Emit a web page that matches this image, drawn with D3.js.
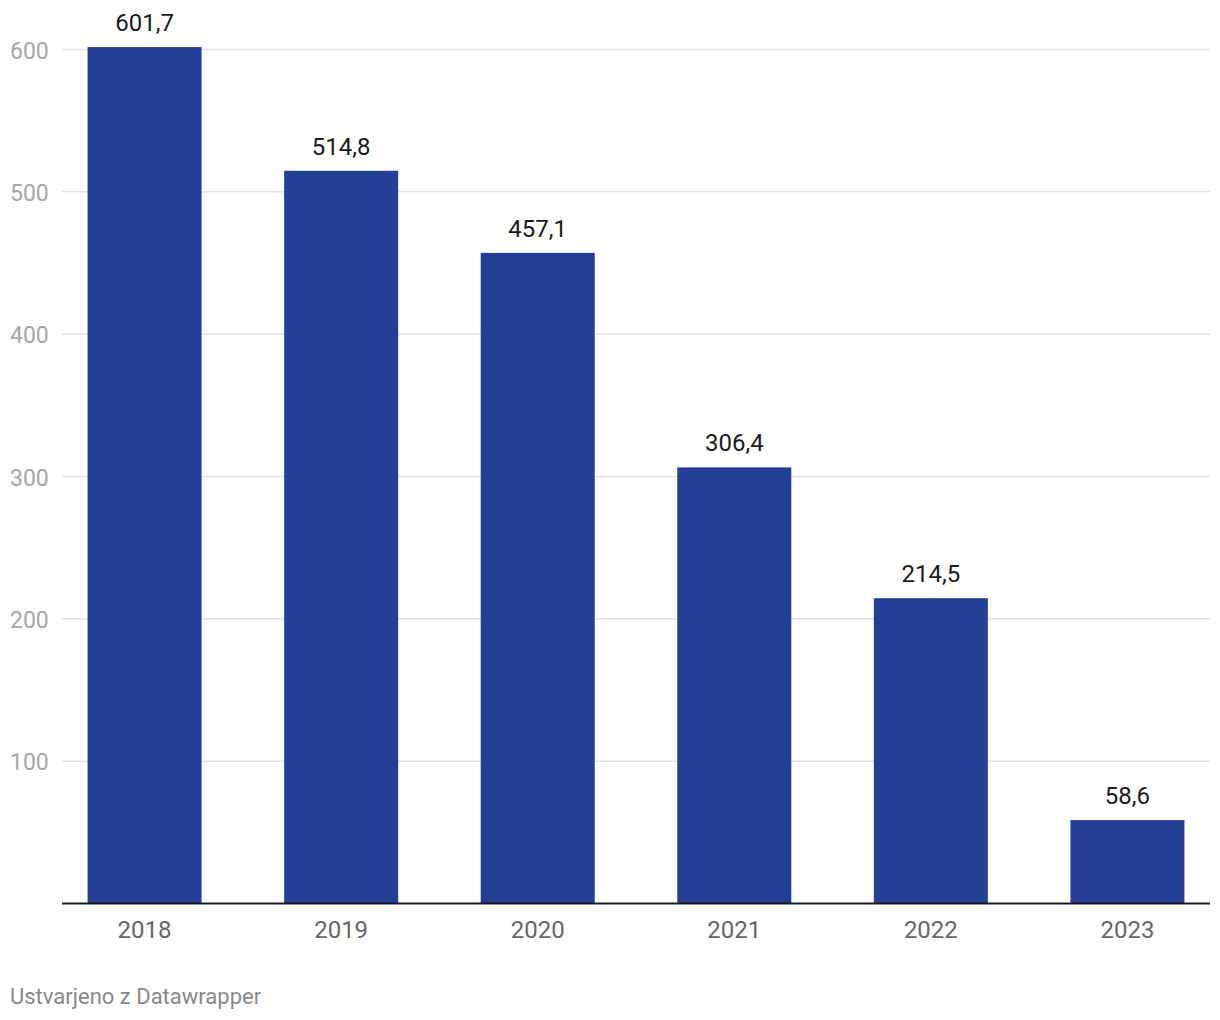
<!DOCTYPE html>
<html>
<head>
<meta charset="utf-8">
<script src="https://cdn.jsdelivr.net/npm/d3@7"></script>
<style>
  body { margin: 0; background: #fff; }
  svg { display: block; font-family: Roboto, "Noto Sans", sans-serif; }
</style>
</head>
<body>
<svg id="chart" width="1220" height="1020"></svg>
<script>
var years = ["2018", "2019", "2020", "2021", "2022", "2023"];
var values = [601.7, 514.8, 457.1, 306.4, 214.5, 58.6];
var yTicks = [100, 200, 300, 400, 500, 600];

var svg = d3.select("#chart");
var plotLeft = 62, plotRight = 1210, plotTop = 49.5, plotBottom = 903.5;

var x = d3.scaleBand()
  .domain(years)
  .range([plotLeft, plotRight])
  .paddingInner(0.42)
  .paddingOuter(0.13);

var y = d3.scaleLinear()
  .domain([0, 600])
  .range([plotBottom, plotTop]);

var fmt = function(v) { return d3.format(".1f")(v).replace(".", ","); };

// gridlines
svg.append("g")
  .selectAll("line")
  .data(yTicks)
  .enter().append("line")
  .attr("x1", plotLeft)
  .attr("x2", plotRight)
  .attr("y1", function(d) { return y(d); })
  .attr("y2", function(d) { return y(d); })
  .attr("stroke", "#e3e3e3")
  .attr("stroke-width", 1.5);

// y labels
svg.append("g")
  .selectAll("text")
  .data(yTicks)
  .enter().append("text")
  .attr("x", 10)
  .attr("y", function(d) { return y(d) + 9; })
  .attr("fill", "#a6a6a6")
  .style("font-size", "23px")
  .text(function(d) { return d; });

// bars
svg.append("g")
  .selectAll("rect")
  .data(values)
  .enter().append("rect")
  .attr("x", function(d, i) { return x(years[i]); })
  .attr("width", x.bandwidth())
  .attr("y", function(d) { return y(d); })
  .attr("height", function(d) { return plotBottom - y(d); })
  .attr("fill", "#233f96");

// value labels
svg.append("g")
  .selectAll("text")
  .data(values)
  .enter().append("text")
  .attr("x", function(d, i) { return x(years[i]) + x.bandwidth() / 2; })
  .attr("y", function(d) { return y(d) - 16; })
  .attr("text-anchor", "middle")
  .attr("fill", "#1a1a1a")
  .style("font-size", "24px")
  .text(fmt);

// baseline
svg.append("line")
  .attr("x1", plotLeft)
  .attr("x2", plotRight)
  .attr("y1", plotBottom)
  .attr("y2", plotBottom)
  .attr("stroke", "#1a1a1a")
  .attr("stroke-width", 2);

// x labels
svg.append("g")
  .selectAll("text")
  .data(years)
  .enter().append("text")
  .attr("x", function(d) { return x(d) + x.bandwidth() / 2; })
  .attr("y", 938)
  .attr("text-anchor", "middle")
  .attr("fill", "#666")
  .style("font-size", "24px")
  .text(function(d) { return d; });

svg.append("text")
  .attr("x", 10)
  .attr("y", 1004)
  .attr("fill", "#888")
  .style("font-size", "22px")
  .text("Ustvarjeno z Datawrapper");
</script>
</body>
</html>
